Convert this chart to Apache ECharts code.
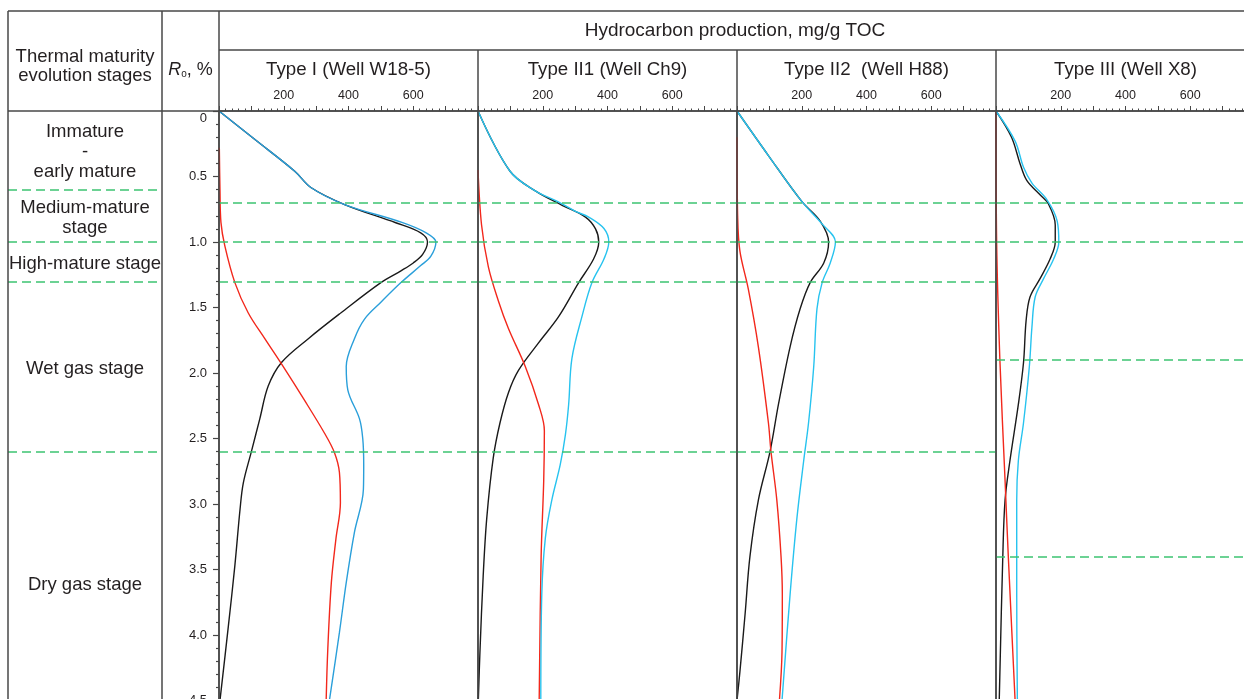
<!DOCTYPE html>
<html>
<head>
<meta charset="utf-8">
<title>Hydrocarbon production vs. Ro</title>
<script src="https://cdn.jsdelivr.net/npm/echarts@6.0.0/dist/echarts.min.js"></script>
<style>
  html, body { margin: 0; padding: 0; background: #ffffff; }
  #chart { width: 1244px; height: 699px; }
</style>
</head>
<body>
<div id="chart"></div>
<script>
// ---- Data: [hydrocarbon production (mg/g TOC), Ro (%)] ----
// Type I (Well W18-5)
const oilTypeI = [[0,0],[112,0.22],[234,0.46],[285,0.586],[388,0.714],[546,0.853],[623,0.93],[644,1.0],[629,1.095],[600,1.16],[562,1.22],[500,1.31],[377,1.54],[275,1.74],[193,1.92],[152,2.1],[126,2.35],[100,2.6],[75,2.84],[65,3.04],[49,3.47],[29,3.93],[3,4.5]];
const gasTypeI = [[1,0.28],[3,0.6],[6,0.85],[18,1.03],[49,1.31],[90,1.54],[142,1.74],[198,1.95],[262,2.2],[326,2.46],[357,2.61],[372,2.76],[375,2.99],[361,3.27],[347,3.6],[336,4.11],[331,4.5]];
const totalTypeI = [[0,0],[112,0.22],[234,0.46],[285,0.586],[388,0.714],[565,0.85],[640,0.93],[670,1.0],[654,1.11],[623,1.18],[562,1.31],[500,1.46],[449,1.59],[418,1.74],[393,1.95],[398,2.13],[434,2.35],[444,2.5],[447,2.7],[446,2.89],[418,3.22],[393,3.6],[372,3.98],[341,4.5]];
const breaksTypeI = [0.7, 1.0, 1.3, 2.6];

// Type II1 (Well Ch9)
const oilTypeII1 = [[0,0],[99,0.46],[177,0.61],[260,0.72],[332,0.81],[363,0.9],[373,1.0],[357,1.13],[311,1.31],[249,1.57],[187,1.77],[125,1.98],[94,2.15],[68,2.38],[47,2.65],[27,3.11],[16,3.55],[6,4.13],[1,4.5]];
const gasTypeII1 = [[0,0.45],[11,0.87],[32,1.19],[63,1.45],[94,1.66],[146,1.95],[187,2.24],[205,2.44],[203,2.82],[195,3.4],[189,4.5]];
const totalTypeII1 = [[0,0],[99,0.46],[177,0.61],[245,0.69],[301,0.766],[342,0.81],[389,0.897],[404,1.0],[389,1.13],[352,1.31],[321,1.57],[290,1.89],[280,2.24],[270,2.47],[254,2.7],[228,2.97],[208,3.26],[197,3.69],[194,4.5]];
const breaksTypeII1 = [0.7, 1.0, 1.3, 2.6];

// Type II2 (Well H88)
const oilTypeII2 = [[0,0],[97,0.34],[200,0.69],[257,0.84],[283,1.0],[268,1.16],[226,1.31],[195,1.51],[164,1.8],[128,2.24],[102,2.6],[66,2.97],[40,3.4],[25,3.84],[9,4.28],[0,4.5]];
const gasTypeII2 = [[0,0.2],[2,0.8],[9,1.07],[35,1.36],[66,1.8],[97,2.38],[105,2.6],[123,2.97],[136,3.4],[140,3.69],[139,4.13],[131,4.5]];
const totalTypeII2 = [[0,0],[97,0.34],[200,0.69],[262,0.86],[304,1.0],[288,1.16],[263,1.31],[247,1.51],[237,1.95],[221,2.38],[206,2.67],[185,3.11],[164,3.69],[139,4.5]];
const breaksTypeII2 = [0.7, 1.0, 1.3, 2.6];

// Type III (Well X8)
const oilTypeIII = [[0,0],[48,0.2],[74,0.4],[95,0.53],[136,0.64],[162,0.71],[183,0.87],[183,1.0],[167,1.13],[136,1.28],[105,1.42],[93,1.6],[85,1.92],[69,2.24],[43,2.67],[28,2.97],[21,3.4],[10,4.5]];
const gasTypeIII = [[0,0],[2,1.0],[12,1.9],[28,2.82],[38,3.4],[59,4.5]];
const totalTypeIII = [[0,0],[59,0.23],[85,0.43],[111,0.55],[158,0.68],[189,0.84],[194,1.0],[178,1.13],[147,1.28],[121,1.42],[111,1.65],[103,1.95],[85,2.38],[69,2.67],[64,2.97],[64,3.69],[66,4.5]];
const breaksTypeIII = [0.7, 1.0, 1.9, 3.4];

// Thermal maturity stages (Ro ranges) and their boundaries
const stageNames = ['Immature\n-\nearly mature', 'Medium-mature\nstage', 'High-mature stage', 'Wet gas stage', 'Dry gas stage'];
const stageRanges = [[0, 0.6], [0.6, 1.0], [1.0, 1.3], [1.3, 2.6], [2.6, 4.6]];
const stageBreaks = [0.6, 1.0, 1.3, 2.6];

// Axis text
const panelTitles = ['Type I (Well W18-5)', 'Type II1 (Well Ch9)', 'Type II2  (Well H88)', 'Type III (Well X8)'];
const productionTickLabels = [200, 400, 600];
const headerTitle = 'Hydrocarbon production, mg/g TOC';
const stageHeader = 'Thermal maturity\nevolution stages';

// ---- Layout & style ----
const FONT = '"Liberation Sans", Arial, Helvetica, sans-serif';
const TEXT = '#231f20';
const FRAME = '#474747';
const GREEN = '#3cc371';
const OIL = '#1a1a1a';
const GAS = '#f2281c';
const L = {
  left: 8, stageRight: 162, plotLeft: 219, panelW: 259,
  top: 11, mid: 50, axisY: 111, roMax: 4.6, pxPerRo: 131,
  W: 1244, H: 699, xMax: 800
};
const plotH = L.roMax * L.pxPerRo;

const panels = [
  { oil: oilTypeI, gas: gasTypeI, total: totalTypeI, breaks: breaksTypeI, totalColor: '#2a9fda' },
  { oil: oilTypeII1, gas: gasTypeII1, total: totalTypeII1, breaks: breaksTypeII1, totalColor: '#27c3ef' },
  { oil: oilTypeII2, gas: gasTypeII2, total: totalTypeII2, breaks: breaksTypeII2, totalColor: '#27c3ef' },
  { oil: oilTypeIII, gas: gasTypeIII, total: totalTypeIII, breaks: breaksTypeIII, totalColor: '#27c3ef' }
];

const dashStyle = { color: GREEN, width: 1.6, type: [9, 5] };

// ---- Grids & axes (fixed pixel boxes; labels may run past the canvas edge) ----
const gridBox = (left, width) => ({
  left: left, top: L.axisY, width: width, height: plotH,
  containLabel: false, outerBoundsMode: 'none'
});
const grid = [gridBox(L.left, L.stageRight - L.left)];
const xAxis = [{ gridIndex: 0, type: 'value', min: 0, max: 1, show: false }];
const yAxis = [{ gridIndex: 0, type: 'value', min: 0, max: L.roMax, inverse: true, show: false }];

panels.forEach((p, i) => {
  grid.push(gridBox(L.plotLeft + i * L.panelW, L.panelW));
  xAxis.push({
    gridIndex: i + 1, type: 'value', position: 'top', min: 0, max: L.xMax, interval: 100,
    axisLine: { show: true, lineStyle: { color: FRAME, width: 1.5 } },
    axisTick: { show: true, length: 5, lineStyle: { color: FRAME, width: 1 } },
    minorTick: { show: true, splitNumber: 5, length: 2.5, lineStyle: { color: FRAME, width: 1 } },
    splitLine: { show: false },
    axisLabel: {
      show: true, margin: 9, fontSize: 12.5, color: TEXT, fontFamily: FONT,
      formatter: v => productionTickLabels.includes(v) ? String(v) : ''
    }
  });
  const first = i === 0;
  yAxis.push({
    gridIndex: i + 1, type: 'value', min: 0, max: L.roMax, interval: 0.5, inverse: true,
    axisLine: { show: true, lineStyle: { color: FRAME, width: 1.5 } },
    axisTick: { show: first, length: 6, lineStyle: { color: FRAME, width: 1.2 } },
    minorTick: { show: first, splitNumber: 5, length: 3, lineStyle: { color: FRAME, width: 1.2 } },
    splitLine: { show: false },
    axisLabel: {
      show: first, margin: 12, fontSize: 13, color: TEXT, fontFamily: FONT,
      formatter: v => v === 0 ? '{z|0}' : v.toFixed(1),
      rich: { z: { fontSize: 13, color: TEXT, fontFamily: FONT, padding: [14, 0, 0, 0] } }
    }
  });
});

// ---- Series ----
const series = [{
  type: 'line', xAxisIndex: 0, yAxisIndex: 0, data: [], silent: true,
  markLine: {
    silent: true, symbol: ['none', 'none'], label: { show: false },
    lineStyle: dashStyle,
    data: stageBreaks.map(r => ({ yAxis: r }))
  },
  markArea: {
    silent: true,
    itemStyle: { color: 'rgba(0,0,0,0)' },
    label: { show: true, position: 'inside', offset: [0, 2], color: TEXT, fontSize: 18.5, fontFamily: FONT, lineHeight: 20 },
    data: stageNames.map((n, k) => [{ yAxis: stageRanges[k][0], name: n }, { yAxis: stageRanges[k][1] }])
  }
}];

const lineSeries = (data, color, idx, extra) => Object.assign({
  type: 'line', xAxisIndex: idx, yAxisIndex: idx, data: data,
  smooth: 0.35, symbol: 'none', silent: true,
  lineStyle: { color: color, width: 1.4 }
}, extra || {});

panels.forEach((p, i) => {
  const idx = i + 1;
  series.push(lineSeries(p.oil, OIL, idx, {
    name: 'Oil',
    markLine: {
      silent: true, symbol: ['none', 'none'], label: { show: false },
      lineStyle: dashStyle,
      data: p.breaks.map(r => ({ yAxis: r }))
    }
  }));
  series.push(lineSeries(p.gas, GAS, idx, { name: 'Gas' }));
  series.push(lineSeries(p.total, p.totalColor, idx, { name: 'Total hydrocarbons' }));
});

// ---- Table frame & header text ----
const frameLine = (x1, y1, x2, y2) => ({
  type: 'line', silent: true, z: 100,
  shape: { x1, y1, x2, y2 },
  style: { stroke: FRAME, lineWidth: 1.5 }
});
const plotRight = L.plotLeft + panels.length * L.panelW;
const graphic = [
  frameLine(L.left, L.top, L.W, L.top),
  frameLine(L.plotLeft, L.mid, L.W, L.mid),
  frameLine(L.left, L.axisY, L.W, L.axisY),
  frameLine(L.left, L.top, L.left, L.H),
  frameLine(L.stageRight, L.top, L.stageRight, L.H),
  frameLine(L.plotLeft, L.top, L.plotLeft, L.H)
];
for (let i = 1; i < panels.length; i++) {
  const x = L.plotLeft + i * L.panelW;
  graphic.push(frameLine(x, L.mid, x, L.H));
}
const headerText = (text, x, y, size, lh) => ({
  type: 'text', silent: true, z: 100, x: x, y: y,
  style: {
    text: text, fill: TEXT, fontSize: size, fontFamily: FONT, lineHeight: lh || size + 2,
    align: 'center', verticalAlign: 'middle', textAlign: 'center', textVerticalAlign: 'middle'
  }
});
graphic.push(headerText(stageHeader, (L.left + L.stageRight) / 2, 66, 18.5, 19));
graphic.push(headerText(headerTitle, (L.plotLeft + plotRight) / 2 - 2, (L.top + L.mid) / 2, 19));
panelTitles.forEach((t, i) => {
  graphic.push(headerText(t, L.plotLeft + (i + 0.5) * L.panelW, 70, 18.7));
});
graphic.push({
  type: 'text', silent: true, z: 100,
  x: (L.stageRight + L.plotLeft) / 2, y: 70,
  style: {
    text: '{r|R}{s|o}{t|, %}',
    align: 'center', verticalAlign: 'middle', textAlign: 'center', textVerticalAlign: 'middle',
    rich: {
      r: { fontSize: 18, fontStyle: 'italic', fontFamily: FONT, fill: TEXT, color: TEXT },
      s: { fontSize: 10, fontFamily: FONT, fill: TEXT, color: TEXT, padding: [8, 0, 0, 0] },
      t: { fontSize: 18, fontFamily: FONT, fill: TEXT, color: TEXT }
    }
  }
});

const chart = echarts.init(document.getElementById('chart'), null, { renderer: 'canvas', width: L.W, height: L.H });
chart.setOption({
  animation: false,
  backgroundColor: '#ffffff',
  textStyle: { fontFamily: FONT },
  grid: grid,
  xAxis: xAxis,
  yAxis: yAxis,
  series: series,
  graphic: graphic
});
</script>
</body>
</html>
